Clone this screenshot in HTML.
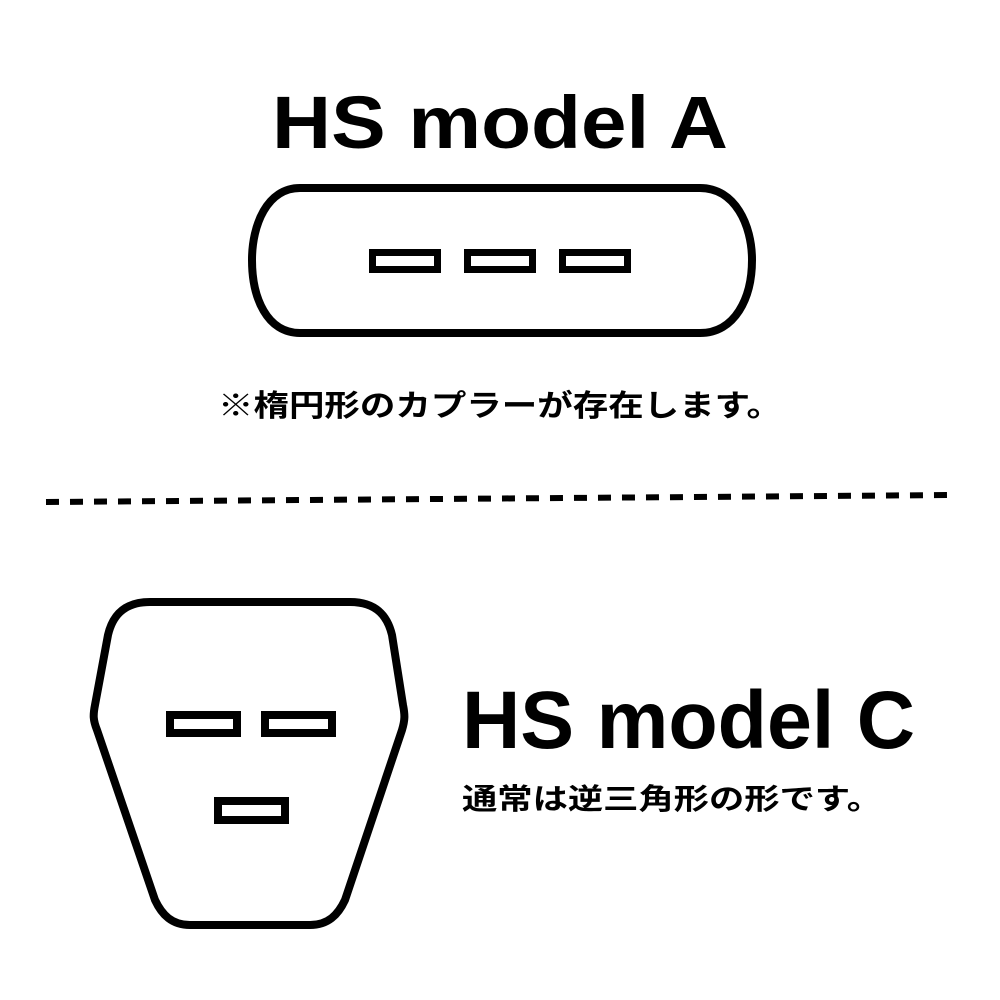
<!DOCTYPE html>
<html><head><meta charset="utf-8"><style>
html,body{margin:0;padding:0;background:#fff;}
svg{display:block}
</style></head><body>
<svg width="1000" height="1000" viewBox="0 0 1000 1000" xmlns="http://www.w3.org/2000/svg">
<rect width="1000" height="1000" fill="#fff"/>
<text x="500" y="148" text-anchor="middle" font-family="Liberation Sans, sans-serif" font-weight="bold" font-size="74" textLength="456" lengthAdjust="spacingAndGlyphs">HS model A</text>
<path d="M300,188 L700,188 C735,188 752,225 752,260 C752,298 735,333 700,333 L300,333 C267,333 252,298 252,260 C252,225 267,188 300,188 Z" fill="none" stroke="#000" stroke-width="8"/>
<g fill="none" stroke="#000" stroke-width="7">
<rect x="372.5" y="252.5" width="65" height="17"/>
<rect x="467.5" y="252.5" width="65" height="17"/>
<rect x="562.5" y="252.5" width="65" height="17"/>
</g>
<text x="500" y="416" text-anchor="middle" font-family="Liberation Sans, Noto Sans CJK JP, sans-serif" font-weight="bold" font-size="30" textLength="564" lengthAdjust="spacingAndGlyphs">※楕円形のカプラーが存在します。</text>
<line x1="46" y1="502" x2="954" y2="495" stroke="#000" stroke-width="6" stroke-dasharray="13 11"/>
<path d="M150,602 L350,602 C378,602 388,618 392,635 L403,705 C405,715 405,720 402,730 L345,900 C338,915 328,925 310,925 L190,925 C172,925 162,915 155,900 L97,730 C93,720 93,715 95,705 L108,635 C112,618 122,602 150,602 Z" fill="none" stroke="#000" stroke-width="8"/>
<g fill="none" stroke="#000" stroke-width="8">
<rect x="170" y="715" width="67" height="18"/>
<rect x="265" y="715" width="67" height="18"/>
<rect x="218" y="801" width="67" height="19"/>
</g>
<text x="462" y="748" font-family="Liberation Sans, sans-serif" font-weight="bold" font-size="82" textLength="453" lengthAdjust="spacingAndGlyphs">HS model C</text>
<text x="462" y="809" font-family="Liberation Sans, Noto Sans CJK JP, sans-serif" font-weight="bold" font-size="29" textLength="420" lengthAdjust="spacingAndGlyphs">通常は逆三角形の形です。</text>
</svg>
</body></html>
